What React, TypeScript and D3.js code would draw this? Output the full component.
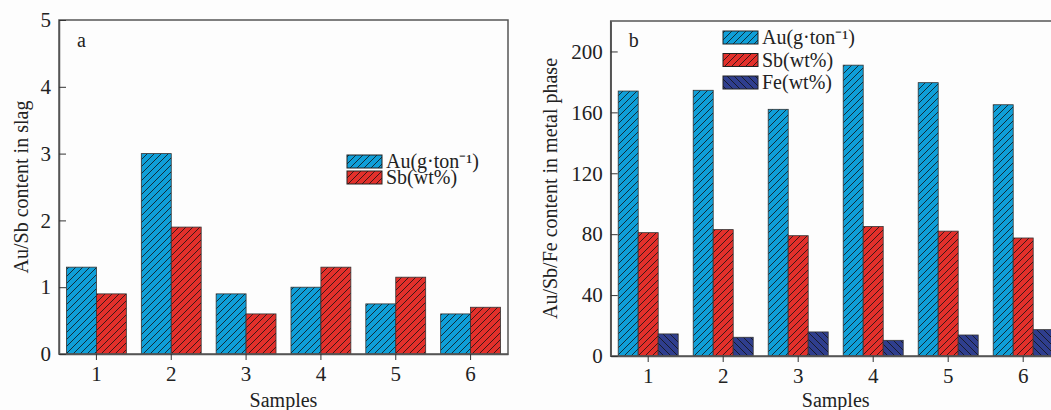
import React, { useEffect, useRef } from 'react';
import * as d3 from 'd3';

const samples = ['1', '2', '3', '4', '5', '6'];

// panel a: slag
const slagAu = [1.3, 3.0, 0.9, 1.0, 0.75, 0.6];
const slagSb = [0.9, 1.9, 0.6, 1.3, 1.15, 0.7];
const slagTicks = [0, 1, 2, 3, 4, 5];

// panel b: metal phase
const metalAu = [174, 174.5, 162, 191, 179.5, 165];
const metalSb = [81, 83, 79, 85, 82, 77.5];
const metalFe = [14.5, 12.3, 15.8, 10.3, 13.8, 17.3];
const metalTicks = [0, 40, 80, 120, 160, 200];

const FONT = '"Liberation Serif", "Times New Roman", serif';
const BLUE = '#0f9fd8';
const RED = '#e3302b';
const NAVY = '#2f3e8e';

export default function App() {
  const ref = useRef<SVGSVGElement>(null);

  useEffect(() => {
    const svg = d3.select(ref.current);
    svg.selectAll('*').remove();

    const defs = svg.append('defs');
    const hatch = (id: string, color: string, back: boolean) => {
      const p = defs.append('pattern')
        .attr('id', id)
        .attr('patternUnits', 'userSpaceOnUse')
        .attr('width', 7)
        .attr('height', 7);
      p.append('rect').attr('width', 7).attr('height', 7).attr('fill', color);
      p.append('path')
        .attr('d', back
          ? 'M0,0 L7,7 M-1,6 L1,8 M6,-1 L8,1'
          : 'M0,7 L7,0 M-1,1 L1,-1 M6,8 L8,6')
        .attr('stroke', '#111')
        .attr('stroke-width', 0.8);
    };
    hatch('hBlue', BLUE, false);
    hatch('hRed', RED, false);
    hatch('hNavy', NAVY, true);

    const drawPanel = (opts: any) => {
      const { left, right, top, bottom, yMax, ticks, series, letter, ylabel, ylabelX, legendX, legendY, legendGap } = opts;
      const g = svg.append('g');

      const x0 = d3.scaleBand().domain(samples).range([left, right])
        .paddingInner(0.2).paddingOuter(0.1);
      const x1 = d3.scaleBand().domain(series.map((s: any) => s.name))
        .range([0, x0.bandwidth()]);
      const y = d3.scaleLinear().domain([0, yMax]).range([bottom, top]);

      series.forEach((s: any) => {
        g.selectAll(null)
          .data(s.values)
          .enter()
          .append('rect')
          .attr('x', (d: number, i: number) => x0(samples[i])! + x1(s.name)!)
          .attr('y', (d: number) => y(d))
          .attr('width', x1.bandwidth())
          .attr('height', (d: number) => bottom - y(d))
          .attr('fill', `url(#${s.pattern})`)
          .attr('stroke', '#333')
          .attr('stroke-width', 0.8);
      });

      // frame
      g.append('rect')
        .attr('x', left).attr('y', top)
        .attr('width', right - left).attr('height', bottom - top)
        .attr('fill', 'none')
        .attr('stroke', '#555')
        .attr('stroke-width', 1.5);

      const xAxis = d3.axisBottom(x0).tickSizeInner(6).tickSizeOuter(0).tickPadding(6);
      const gx = g.append('g').attr('transform', `translate(0,${bottom})`).call(xAxis);
      const yAxis = d3.axisLeft(y).tickValues(ticks).tickFormat(d3.format('d'))
        .tickSizeInner(-7).tickSizeOuter(0).tickPadding(8);
      const gy = g.append('g').attr('transform', `translate(${left},0)`).call(yAxis);
      [gx, gy].forEach((a) => {
        a.select('.domain').attr('stroke', '#555').attr('stroke-width', 1.5);
        a.selectAll('line').attr('stroke', '#333');
        a.selectAll('text')
          .attr('font-family', FONT)
          .attr('font-size', 21)
          .attr('fill', '#222');
      });

      g.append('text')
        .attr('x', (left + right) / 2).attr('y', 407)
        .attr('text-anchor', 'middle')
        .attr('font-family', FONT).attr('font-size', 20).attr('fill', '#222')
        .text('Samples');

      g.append('text')
        .attr('transform', `translate(${ylabelX},${(top + bottom) / 2}) rotate(-90)`)
        .attr('text-anchor', 'middle')
        .attr('font-family', FONT).attr('font-size', 20).attr('fill', '#222')
        .text(ylabel);

      g.append('text')
        .attr('x', left + 18).attr('y', 47)
        .attr('font-family', FONT).attr('font-size', 20).attr('fill', '#222')
        .text(letter);

      series.forEach((s: any, i: number) => {
        const ly = legendY + i * legendGap;
        g.append('rect')
          .attr('x', legendX).attr('y', ly)
          .attr('width', 35).attr('height', 13)
          .attr('fill', `url(#${s.pattern})`)
          .attr('stroke', '#222').attr('stroke-width', 1);
        g.append('text')
          .attr('x', legendX + 39).attr('y', ly + 13)
          .attr('font-family', FONT).attr('font-size', 20).attr('fill', '#222')
          .text(s.label);
      });
    };

    drawPanel({
      left: 59, right: 508, top: 20, bottom: 354,
      yMax: 5, ticks: slagTicks,
      series: [
        { name: 'Au', values: slagAu, pattern: 'hBlue', label: 'Au(g·ton⁻¹)' },
        { name: 'Sb', values: slagSb, pattern: 'hRed', label: 'Sb(wt%)' },
      ],
      letter: 'a', ylabel: 'Au/Sb content in slag', ylabelX: 28,
      legendX: 347, legendY: 155, legendGap: 16,
    });

    drawPanel({
      left: 610.7, right: 1060.7, top: 21, bottom: 356,
      yMax: 220, ticks: metalTicks,
      series: [
        { name: 'Au', values: metalAu, pattern: 'hBlue', label: 'Au(g·ton⁻¹)' },
        { name: 'Sb', values: metalSb, pattern: 'hRed', label: 'Sb(wt%)' },
        { name: 'Fe', values: metalFe, pattern: 'hNavy', label: 'Fe(wt%)' },
      ],
      letter: 'b', ylabel: 'Au/Sb/Fe content in metal phase', ylabelX: 557,
      legendX: 723, legendY: 31, legendGap: 22.5,
    });
  }, []);

  return (
    <svg
      ref={ref}
      width={1051}
      height={410}
      style={{ position: 'absolute', left: 0, top: 0, background: '#fdfdfd' }}
    />
  );
}
